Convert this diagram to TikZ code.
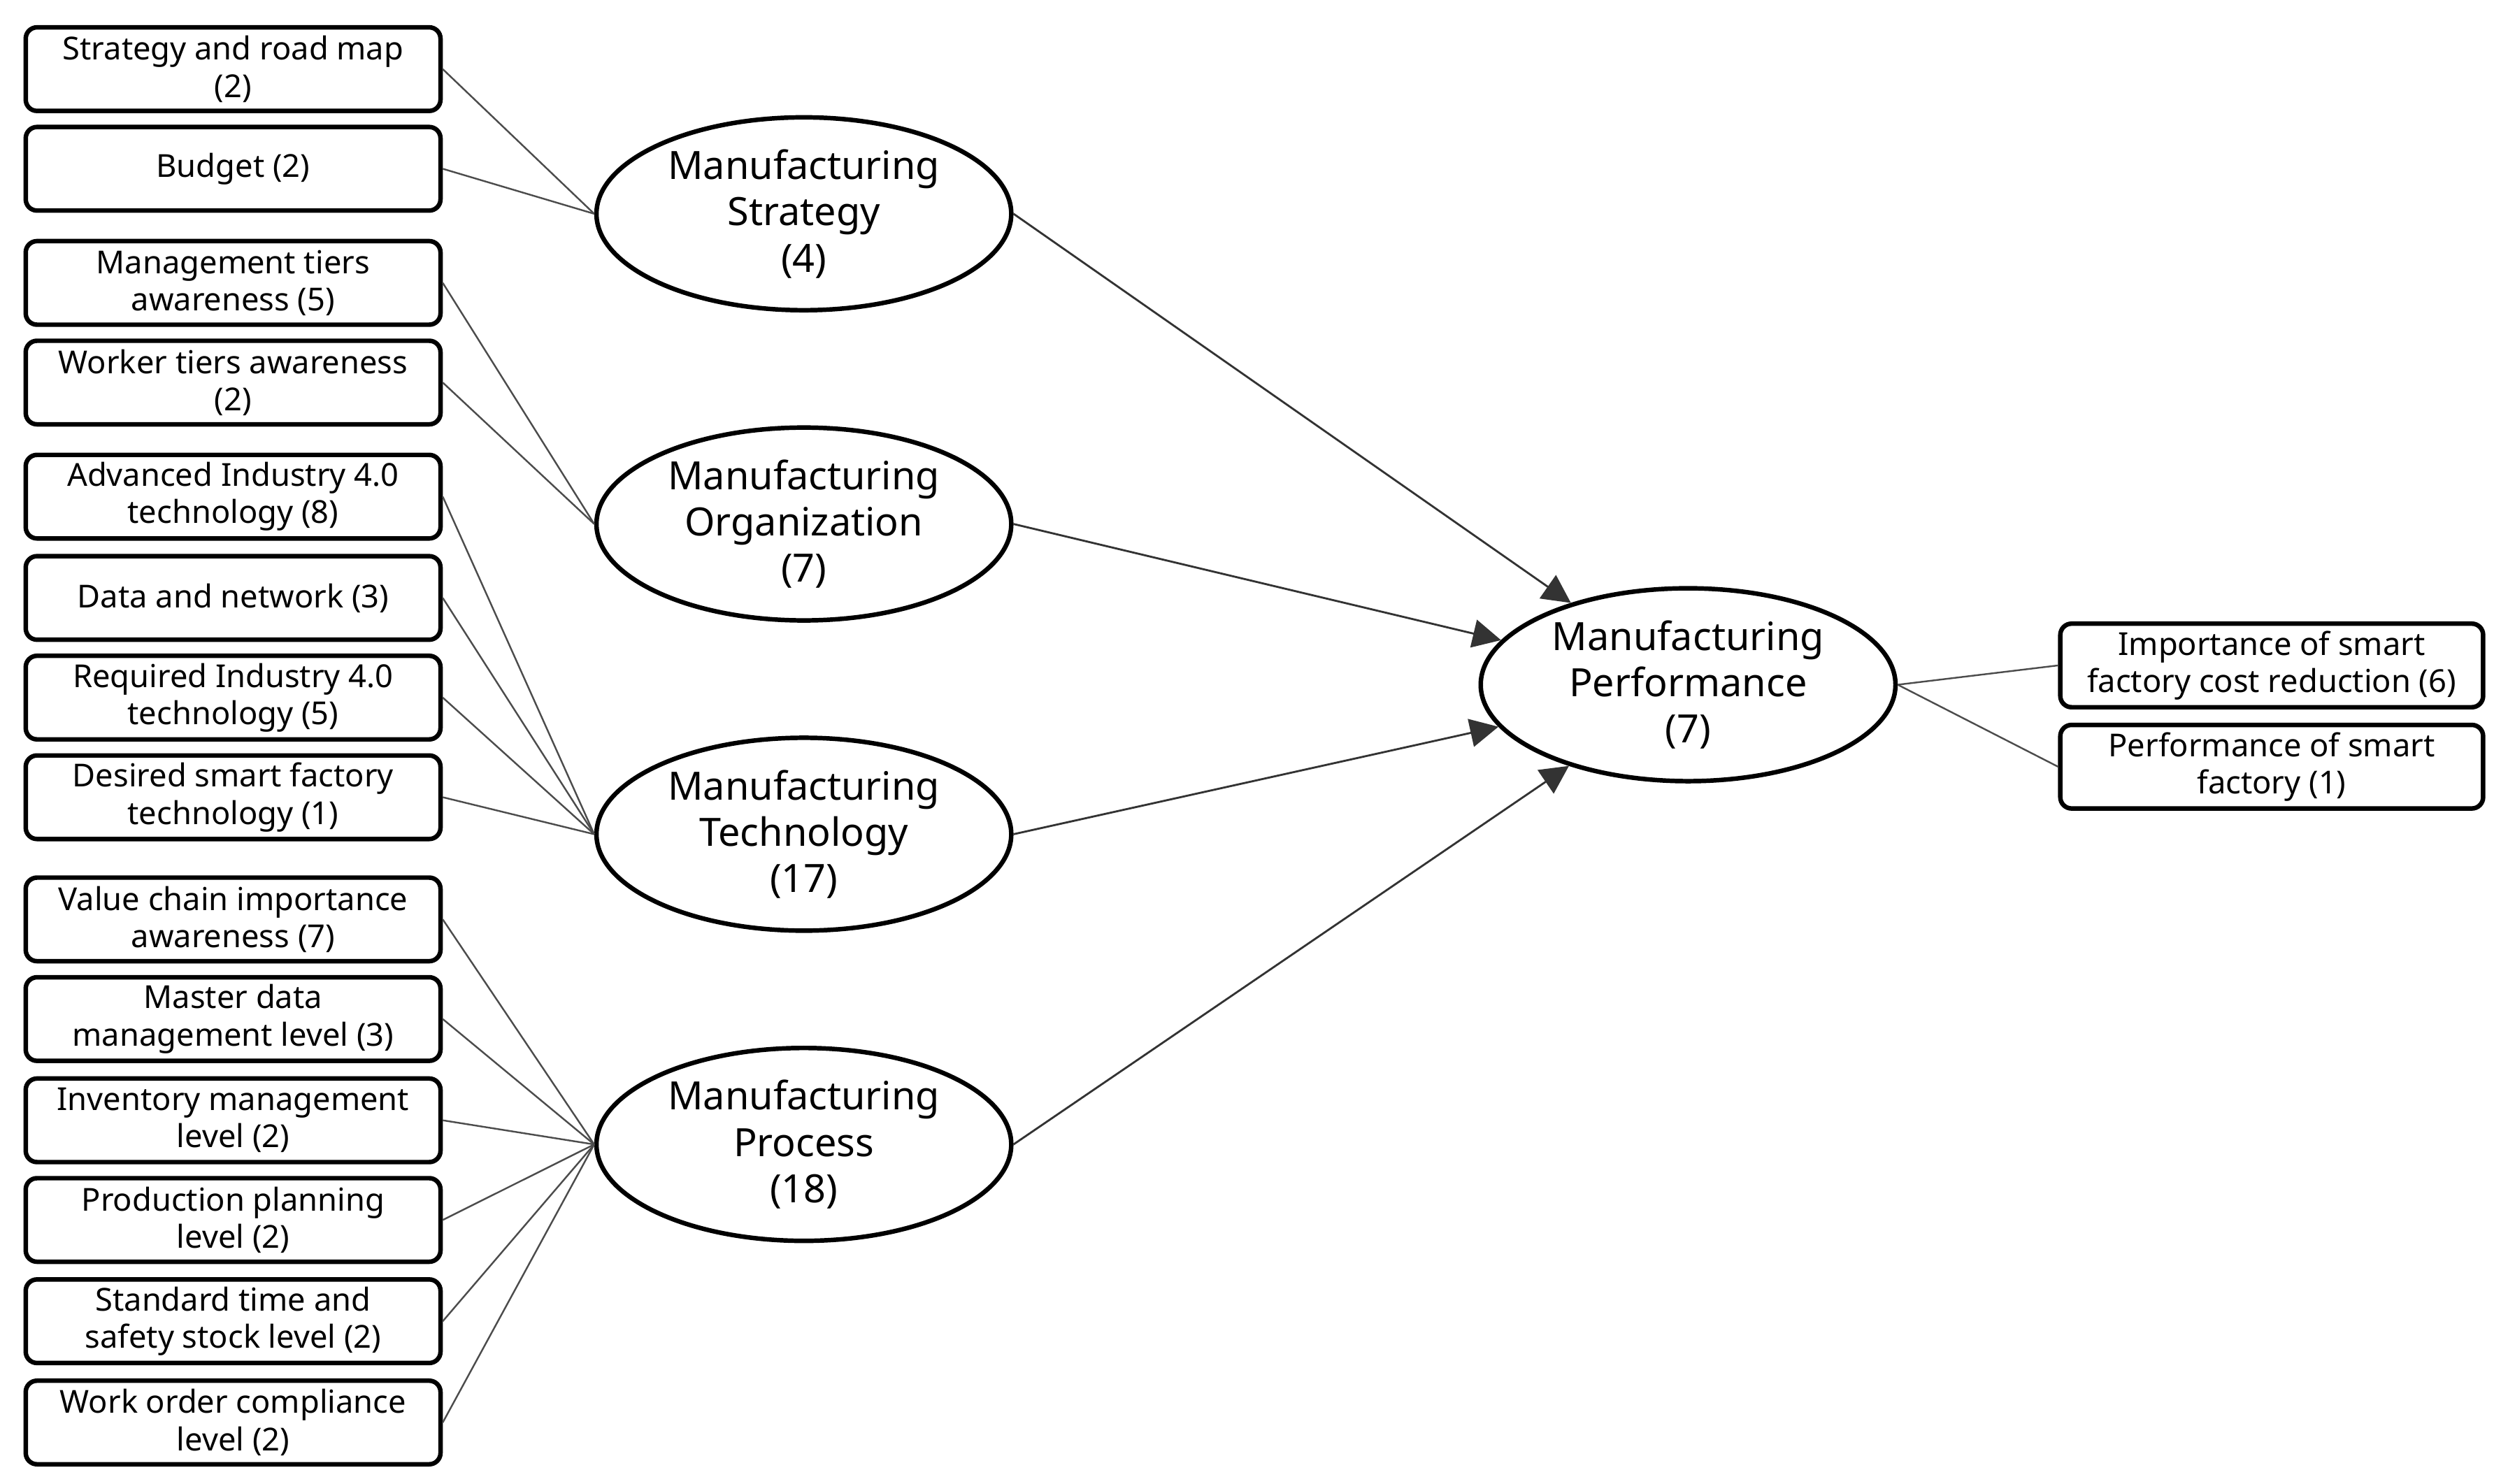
\documentclass[tikz,border=0pt]{standalone}
\usepackage{fontspec}
\setmainfont{Noto Sans}
\usetikzlibrary{shapes.geometric,arrows.meta}
\tikzset{
  item/.style={shape=rectangle, rounded corners=2pt, draw, thick, align=center, minimum width=2.58cm, minimum height=0.52cm, inner sep=1pt, font=\fontsize{5.6}{6.6}\selectfont},
  factor/.style={shape=ellipse, draw, thick, align=center, minimum width=2.58cm, minimum height=1.2cm, inner sep=0pt, font=\fontsize{6.9}{8.2}\selectfont},
  link/.style={draw=black!70, line width=0.3pt},
  flow/.style={draw=black!80, line width=0.35pt, -{Triangle[length=5pt,width=5pt]}}
}
\begin{document}
\begin{tikzpicture}[yscale=-1]
	\useasboundingbox (0,0) rectangle (15.6,9.23);
	% measured items
	\node (s1)[item] at (1.45,0.43){Strategy and road map\\(2)};
	\node (s2)[item] at (1.45,1.05){Budget (2)};
	\node (o1)[item] at (1.45,1.76){Management tiers\\awareness (5)};
	\node (o2)[item] at (1.45,2.38){Worker tiers awareness\\(2)};
	\node (t1)[item] at (1.45,3.09){Advanced Industry 4.0\\technology (8)};
	\node (t2)[item] at (1.45,3.72){Data and network (3)};
	\node (t3)[item] at (1.45,4.34){Required Industry 4.0\\technology (5)};
	\node (t4)[item] at (1.45,4.96){Desired smart factory\\technology (1)};
	\node (p1)[item] at (1.45,5.72){Value chain importance\\awareness (7)};
	\node (p2)[item] at (1.45,6.34){Master data\\management level (3)};
	\node (p3)[item] at (1.45,6.97){Inventory management\\level (2)};
	\node (p4)[item] at (1.45,7.59){Production planning\\level (2)};
	\node (p5)[item] at (1.45,8.22){Standard time and\\safety stock level (2)};
	\node (p6)[item] at (1.45,8.85){Work order compliance\\level (2)};
	\node (r1)[item, minimum width=2.63cm] at (14.13,4.14){Importance of smart\\factory cost reduction (6)};
	\node (r2)[item, minimum width=2.63cm] at (14.13,4.77){Performance of smart\\factory (1)};
	% factors
	\node (ms)[factor] at (5.0,1.33){Manufacturing\\Strategy\\(4)};
	\node (mo)[factor] at (5.0,3.26){Manufacturing\\Organization\\(7)};
	\node (mt)[factor] at (5.0,5.19){Manufacturing\\Technology\\(17)};
	\node (mp)[factor] at (5.0,7.12){Manufacturing\\Process\\(18)};
	\node (perf)[factor] at (10.5,4.26){Manufacturing\\Performance\\(7)};
	% item links
	\foreach \i in {s1,s2} \path[link] (\i.east) -- (ms.west);
	\foreach \i in {o1,o2} \path[link] (\i.east) -- (mo.west);
	\foreach \i in {t1,t2,t3,t4} \path[link] (\i.east) -- (mt.west);
	\foreach \i in {p1,p2,p3,p4,p5,p6} \path[link] (\i.east) -- (mp.west);
	\foreach \i in {r1,r2} \path[link] (perf.east) -- (\i.west);
	% paths
	\foreach \f in {ms,mo,mt,mp} \path[flow] (\f.east) -- (perf);
\end{tikzpicture}
\end{document}
